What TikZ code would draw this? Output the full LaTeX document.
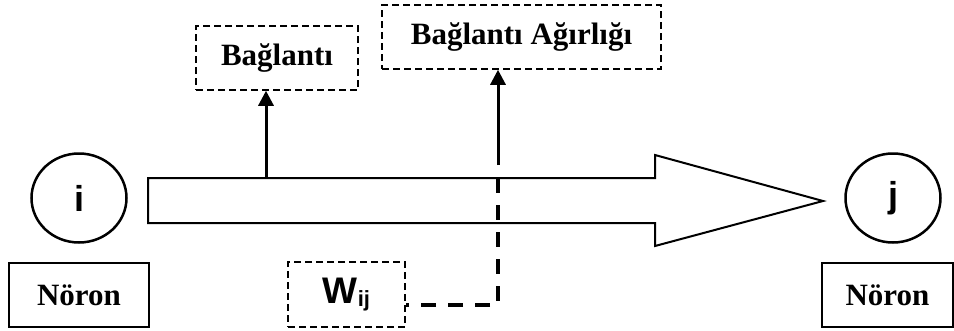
\documentclass[tikz,border=0pt]{standalone}
\usepackage{fontspec}
\setmainfont{Liberation Serif}
\newfontfamily\arialfont{Liberation Sans}
\usetikzlibrary{arrows.meta,shapes.geometric}
\tikzset{
  neuron/.style={draw, ellipse, line width=2.5pt, minimum width=95pt, minimum height=89pt, inner sep=0pt,
    font=\arialfont\bfseries\fontsize{36}{36}\selectfont},
  labelbox/.style={draw, line width=1.3pt, inner sep=0pt,
    font=\bfseries\fontsize{31}{31}\selectfont},
  dashbox/.style={labelbox, dashed, dash pattern=on 7pt off 4pt, line width=1.5pt},
  uparrow/.style={line width=3pt, -{Triangle[length=15pt,width=15pt]}},
  weightline/.style={line width=3.5pt, dash pattern=on 15pt off 12pt},
  bigarrow/.style={draw, line width=2pt, line join=miter}
}
\begin{document}
\begin{tikzpicture}[x=1pt,y=-1pt]
\useasboundingbox (0,0) rectangle (954,330);
% big hollow arrow
\draw[bigarrow] (148,178) -- (655,178) -- (655,155) -- (823,201) -- (655,246) -- (655,223) -- (148,223) -- cycle;
% neurons
\node[neuron] (i) at (79,198) {i};
\node[neuron] (j) at (893,198) {j};
\node[labelbox, minimum width=140pt, minimum height=64pt] (n1) at (79,295) {Nöron};
\node[labelbox, minimum width=131pt, minimum height=64pt] (n2) at (887.5,295) {Nöron};
% dashed labels
\node[dashbox, minimum width=162pt, minimum height=64pt] (b) at (277,58) {Bağlantı};
\node[dashbox, minimum width=279pt, minimum height=64pt] (ba) at (521.5,37) {Bağlantı Ağırlığı};
\node[dashbox, minimum width=117pt, minimum height=65pt, font=\arialfont\bfseries\fontsize{37}{37}\selectfont] (w) at (346.5,294.5)
  {W{\fontsize{22}{22}\selectfont\raisebox{-3pt}{ij}}};
% connectors
\coordinate (b0) at (266,178);
\coordinate (c0) at (498,165);
\coordinate (c1) at (498,178);
\draw[uparrow] (b0) -- (b.south -| b0);
\draw[uparrow] (c0) -- (ba.south -| c0);
\draw[weightline] (c1) |- (w.east |- 0,305);
\end{tikzpicture}
\end{document}
